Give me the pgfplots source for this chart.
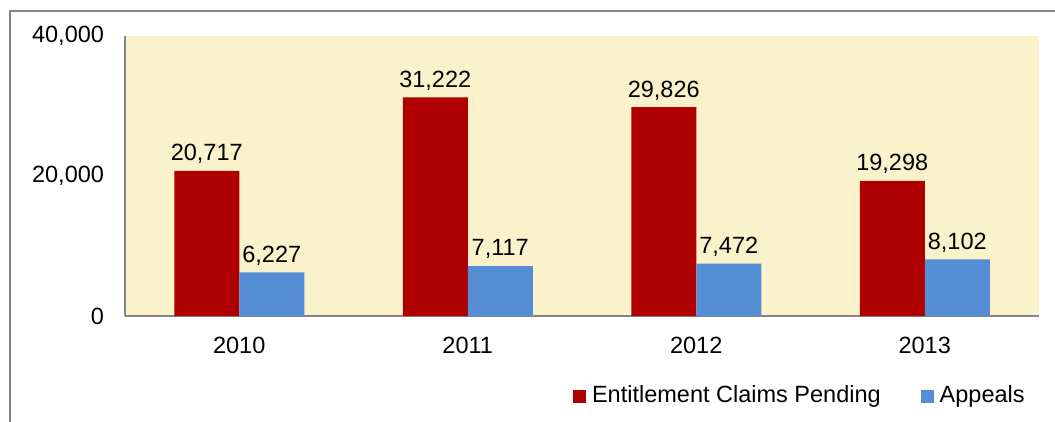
\documentclass[border=0pt]{standalone}
\usepackage{pgfplots}
\pgfplotsset{compat=1.18}
\usepackage{fontspec}
\setmainfont{Liberation Sans}
\definecolor{barred}{RGB}{174,0,0}
\definecolor{barblue}{RGB}{85,142,213}
\definecolor{bgyel}{RGB}{250,242,202}
\definecolor{axgray}{RGB}{134,134,134}
\begin{document}
\fontsize{23.5}{28}\selectfont
\begin{tikzpicture}
\useasboundingbox (0,0) rectangle (1055pt,421pt);
\begin{scope}
\clip (0,0) rectangle (1055pt,421pt);
\draw[axgray, line width=1.5pt] (10pt,410pt) rectangle (1200pt,-100pt);
\end{scope}
\begin{axis}[
  at={(125pt,105pt)}, anchor=south west,
  width=914pt, height=280pt, scale only axis,
  ybar=0pt, bar width=65pt,
  xmin=-0.5, xmax=3.5, ymin=0, ymax=40000,
  xtick={0,1,2,3}, xticklabels={2010,2011,2012,2013},
  ytick={0,20000,40000},
  scaled y ticks=false,
  /pgf/number format/.cd, 1000 sep={,}, assume math mode=true, /pgfplots/.cd,
  axis x line=bottom, axis y line=left,
  axis line style={-, axgray, line width=1.2pt},
  major tick length=0pt,
  tick style={draw=none},
  axis background/.style={fill=bgyel},
  ticklabel style={font=\fontsize{23.5}{28}\selectfont},
  yticklabel style={xshift=-13pt},
  xticklabel style={yshift=-13pt},
  nodes near coords,
  every node near coord/.append style={font=\fontsize{23.5}{28}\selectfont, inner sep=7pt, /pgf/number format/1000 sep={,}, /pgf/number format/assume math mode=true},
  legend columns=2,
  legend style={draw=none, fill=none, at={(0.99,-0.286)}, anchor=east,
    font=\fontsize{23.5}{28}\selectfont,
    /tikz/every even column/.style={column sep=38pt},
    nodes={inner sep=2pt}},
  legend image code/.code={\fill[#1] (0pt,-6.5pt) rectangle (13pt,6.5pt); \path (17pt,0pt);},
]
\addplot[fill=barred, draw=none] coordinates {(0,20717) (1,31222) (2,29826) (3,19298)};
\addplot[fill=barblue, draw=none] coordinates {(0,6227) (1,7117) (2,7472) (3,8102)};
\legend{Entitlement Claims Pending, Appeals}
\end{axis}
\end{tikzpicture}
\end{document}
